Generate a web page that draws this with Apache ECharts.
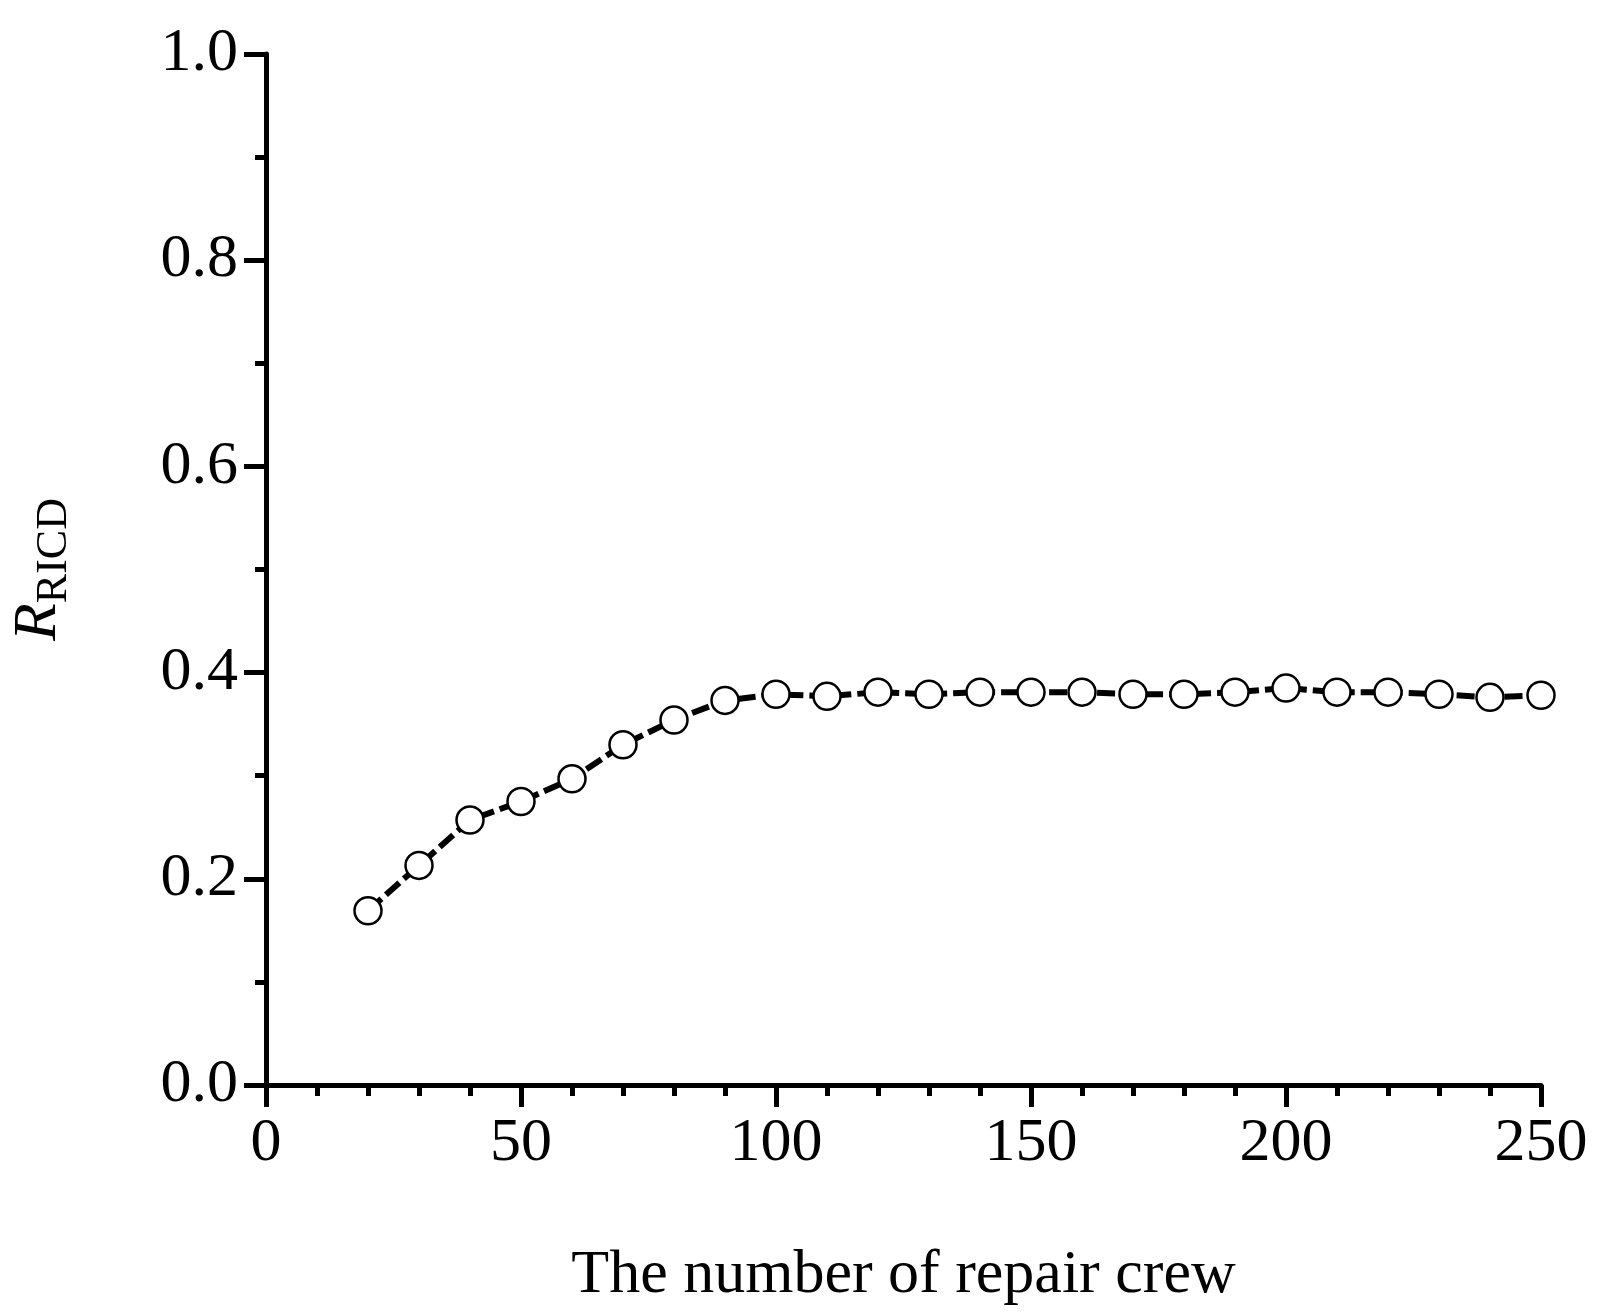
<!DOCTYPE html>
<html>
<head>
<meta charset="utf-8">
<script src="https://cdn.jsdelivr.net/npm/echarts@6/dist/echarts.min.js"></script>
<style>html,body{margin:0;padding:0;background:#fff}#chart{width:1624px;height:1314px}</style>
</head>
<body>
<div id="chart"></div>
<script>
var crews = [20, 30, 40, 50, 60, 70, 80, 90, 100, 110, 120, 130, 140, 150, 160, 170, 180, 190, 200, 210, 220, 230, 240, 250];
var ricd = [0.169, 0.213, 0.257, 0.275, 0.297, 0.330, 0.354, 0.373, 0.379, 0.377, 0.381, 0.379, 0.381, 0.381, 0.381, 0.379, 0.379, 0.381, 0.385, 0.381, 0.381, 0.379, 0.376, 0.378];

var font = 'Liberation Serif';
var chart = echarts.init(document.getElementById('chart'));

chart.setOption({
    animation: false,
    grid: { left: 235, right: 83, top: 54, bottom: 229 },
    xAxis: {
        type: 'value',
        min: 0, max: 250, interval: 50,
        name: 'The number of repair crew',
        nameLocation: 'middle',
        nameGap: 160,
        nameTextStyle: { fontFamily: font, fontSize: 62, color: '#000' },
        axisLine: { lineStyle: { color: '#000', width: 5 } },
        axisTick: { length: 22, lineStyle: { color: '#000', width: 5 } },
        minorTick: { show: true, splitNumber: 5, length: 11, lineStyle: { color: '#000', width: 5 } },
        axisLabel: { fontFamily: font, fontSize: 62, color: '#000', margin: 28 },
        splitLine: { show: false }
    },
    yAxis: {
        type: 'value',
        min: 0, max: 1, interval: 0.2,
        name: '{r|R}{s|RICD}',
        nameLocation: 'middle',
        nameGap: 190,
        nameRotate: 90,
        nameTextStyle: {
            rich: {
                r: { fontFamily: font, fontSize: 62, fontStyle: 'italic', color: '#000' },
                s: { fontFamily: font, fontSize: 44, color: '#000', padding: [30, 0, 0, 0] }
            }
        },
        axisLine: { show: true, lineStyle: { color: '#000', width: 5 } },
        axisTick: { length: 22, lineStyle: { color: '#000', width: 5 } },
        minorTick: { show: true, splitNumber: 2, length: 11, lineStyle: { color: '#000', width: 5 } },
        axisLabel: { fontFamily: font, fontSize: 62, color: '#000', margin: 28,
            formatter: function (v) { return v.toFixed(1); } },
        splitLine: { show: false }
    },
    series: [{
        type: 'line',
        data: crews.map(function (c, i) { return [c, ricd[i]]; }),
        lineStyle: { color: '#000', width: 6, type: [18, 6] },
        symbol: 'circle',
        symbolSize: 27,
        itemStyle: { color: '#fff', borderColor: '#000', borderWidth: 2.5 },
        clip: false
    }]
});
</script>
</body>
</html>
